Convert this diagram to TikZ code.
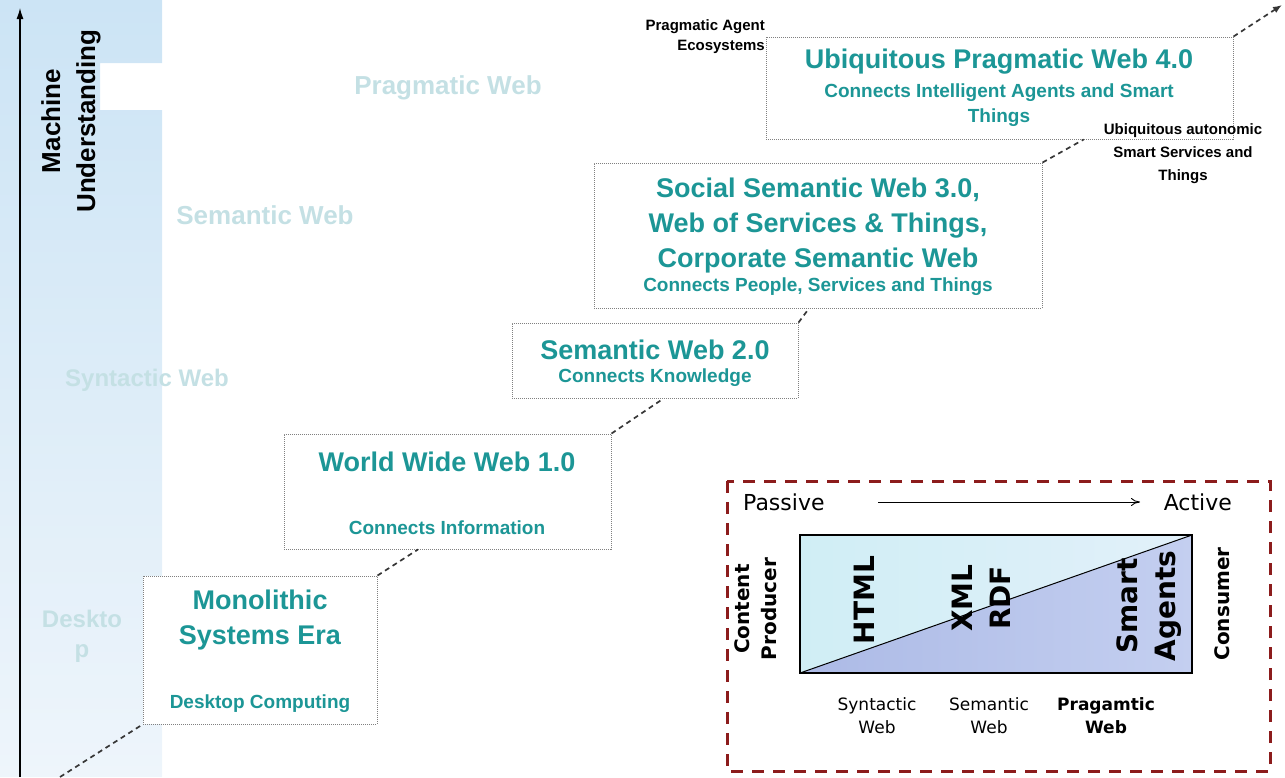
\documentclass[tikz,border=0pt]{standalone}
\usepackage{fontspec}
\setmainfont{Liberation Sans}
\newfontfamily\legendfont{DejaVu Sans}
\usetikzlibrary{arrows.meta,calc}

\definecolor{webteal}{RGB}{28,150,150}
\definecolor{fadeteal}{RGB}{196,224,228}
\definecolor{stripblue}{RGB}{204,228,245}
\definecolor{stripfade}{RGB}{238,245,251}
\definecolor{legendred}{RGB}{140,28,28}
\definecolor{connector}{RGB}{55,55,55}
\definecolor{upcyan}{RGB}{208,238,245}
\definecolor{upcyanr}{RGB}{226,240,250}
\definecolor{lowblue}{RGB}{172,186,230}
\definecolor{lowbluer}{RGB}{196,207,240}

\begin{document}
\begin{tikzpicture}[
        x=1pt, y=-1pt,
        era/.style={
            draw=gray,
            line width=0.9pt,
            dash pattern=on 1pt off 1pt,
            fill=white,
            inner sep=0pt
        },
        title/.style={text=webteal, font=\fontsize{27}{35}\selectfont\bfseries, align=center, inner sep=0pt},
        sub/.style={text=webteal, font=\fontsize{19}{25}\selectfont\bfseries, align=center, inner sep=0pt},
        faded/.style={text=fadeteal, font=\fontsize{26}{31}\selectfont\bfseries, align=center, inner sep=0pt},
        note/.style={font=\fontsize{15}{23}\selectfont\bfseries, inner sep=0pt},
        conn/.style={draw=connector, line width=1.7pt, dash pattern=on 5pt off 4pt},
        legend/.style={font=\legendfont\fontsize{22}{24}\selectfont, inner sep=0pt},
        tech/.style={font=\legendfont\bfseries\fontsize{28}{38}\selectfont, rotate=90, align=center, inner sep=0pt},
        role/.style={font=\legendfont\bfseries\fontsize{20}{27}\selectfont, rotate=90, align=center, inner sep=0pt},
        kind/.style={font=\legendfont\fontsize{17}{23}\selectfont, align=center, inner sep=0pt}
    ]

    \useasboundingbox (0,0) rectangle (1285,777);

    % Strip and axis
    \shade[top color=stripblue, bottom color=stripfade]
        (0,0) -- (162,0) -- (162,63) -- (100,63) -- (100,110) -- (162,110) -- (162,777) -- (0,777) -- cycle;
    \coordinate (axisbase) at (20,777);
    \coordinate (axistop)  at (20,8);
    \draw[-{Latex[length=11pt,width=7pt]}, line width=1.2pt] (axisbase) -- (axistop);
    \node[rotate=90, font=\fontsize{26}{35}\selectfont\bfseries, align=center, inner sep=0pt]
        (mu) at (71,121) {Machine\\Understanding};

    % Faded levels
    \node[faded] (fprag) at (448,88)  {Pragmatic Web};
    \node[faded] (fsem)  at (265,215) {Semantic Web};
    \node[faded, font=\fontsize{24}{30}\selectfont\bfseries] (fsyn) at (147,380) {Syntactic Web};
    \node[faded, font=\fontsize{24}{30}\selectfont\bfseries] (fdesk) at (82,636) {Deskto\\p};

    % Eras
    \node[era, minimum width=234pt, minimum height=148pt] (mono) at (260,650)   {};
    \node[era, minimum width=327pt, minimum height=115pt] (www)  at (447.5,491.5) {};
    \node[era, minimum width=286pt, minimum height=75pt]  (sw2)  at (655,360.5) {};
    \node[era, minimum width=448pt, minimum height=145pt] (sw3)  at (818,235.5) {};
    \node[era, minimum width=467pt, minimum height=102pt] (pw4)  at (999.5,88)  {};

    \node[title] (monoT) at (260,620) {Monolithic\\Systems Era};
    \node[sub]   (monoS) at (260,704) {Desktop Computing};
    \node[title] (wwwT)  at (447,462) {World Wide Web 1.0};
    \node[sub]   (wwwS)  at (447,528) {Connects Information};
    \node[title] (sw2T)  at (655,350) {Semantic Web 2.0};
    \node[sub]   (sw2S)  at (655,378) {Connects Knowledge};
    \node[title] (sw3T)  at (818,226) {Social Semantic Web 3.0,\\Web of Services \& Things,\\Corporate Semantic Web};
    \node[sub]   (sw3S)  at (818,287) {Connects People, Services and Things};
    \node[title] (pw4T)  at (999,62)  {Ubiquitous Pragmatic Web 4.0};
    \node[sub]   (pw4S)  at (999,105) {Connects Intelligent Agents and Smart\\Things};

    % Side notes
    \node[note, align=right, anchor=east, font=\fontsize{15}{20}\selectfont\bfseries] (agents) at (765,37) {Pragmatic Agent\\Ecosystems};
    \node[note, align=center] (autonomic) at (1183,154) {Ubiquitous autonomic\\Smart Services and\\Things};

    % Connectors
    \coordinate (start) at (60,777);
    \coordinate (tip)   at (1282,5);
    \draw[conn] (start) -- (mono.south west);
    \draw[conn] (mono.north east) -- ($(www.south west)!0.41!(www.south east)$);
    \draw[conn] (www.north east) -- ($(sw2.south west)!0.53!(sw2.south east)$);
    \draw[conn] (sw2.north east) -- ($(sw3.south west)!0.48!(sw3.south east)$);
    \draw[conn] (sw3.north east) -- ($(pw4.south west)!0.68!(pw4.south east)$);
    \draw[conn, -{Latex[length=9pt,width=7pt]}] (pw4.north east) -- (tip);

    % Legend
    \draw[legendred, line width=3pt, dash pattern=on 12pt off 9pt] (727,481) rectangle (1270,771);
    \node[legend, anchor=west] (passive) at (743,502) {Passive};
    \node[legend, anchor=east] (active)  at (1232,502) {Active};
    \draw[-{To[length=9pt,width=8pt]}, line width=0.9pt] (878,502) -- (1140,502);

    \coordinate (itl) at (800,535);
    \coordinate (itr) at (1192,535);
    \coordinate (ibl) at (800,673);
    \coordinate (ibr) at (1192,673);
    \shade[left color=upcyan, right color=upcyanr] (ibl) -- (itl) -- (itr) -- cycle;
    \shade[left color=lowblue, right color=lowbluer] (ibl) -- (ibr) -- (itr) -- cycle;
    \draw[line width=1.2pt] (itl) rectangle (ibr);
    \draw[line width=1pt] (ibl) -- (itr);

    \node[tech] (html)  at (864,600)  {HTML};
    \node[tech] (xml)   at (981,598)  {XML\\RDF};
    \node[tech] (smart) at (1149,606) {Smart\\Agents};
    \node[role] (prod)  at (756,609)  {Content\\Producer};
    \node[role] (cons)  at (1222,604) {Consumer};

    \node[kind] (syn)  at (877,716)  {Syntactic\\Web};
    \node[kind] (sem)  at (989,716)  {Semantic\\Web};
    \node[kind, font=\legendfont\bfseries\fontsize{17}{23}\selectfont] (prg) at (1106,716) {Pragamtic\\Web};

    \end{tikzpicture}
\end{document}
